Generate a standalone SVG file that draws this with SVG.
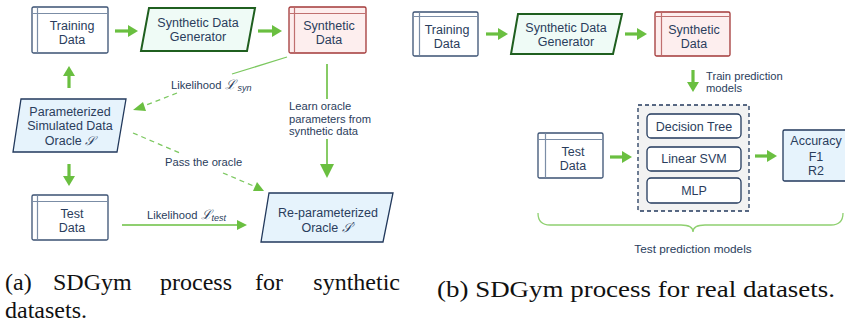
<svg xmlns="http://www.w3.org/2000/svg" width="845" height="323" viewBox="0 0 845 323">
<style>
text{font-family:"Liberation Sans",Arial,sans-serif;fill:#2a3d5c}
.n{font-size:12.5px;text-anchor:middle}
.l{font-size:11.2px}
.lc{font-size:11.8px;text-anchor:middle}
.cap{font-family:"Liberation Serif","Times New Roman",serif;font-size:24px;fill:#111}
.box{fill:#fff;stroke:#3b5273;stroke-width:1.3}
.inner{stroke:#7b8da6;stroke-width:1.2;fill:none}
.syn{fill:#fdeeee;stroke:#a33838;stroke-width:1.3}
.synin{stroke:#c07070;stroke-width:1.2;fill:none}
.gen{fill:#effbf6;stroke:#1f5f1f;stroke-width:2}
.orc{fill:#e6f3fc;stroke:#22395c;stroke-width:1.3}
.mod{fill:#fff;stroke:#22395c;stroke-width:1.3}
.thick{stroke:#6abf40;stroke-width:3.2;fill:none}
.thin{stroke:#6abf40;stroke-width:1.6;fill:none}
.dash{stroke:#7cc860;stroke-width:1.3;fill:none;stroke-dasharray:5,4}
.head{fill:#6abf40}
.sym{font-family:"DejaVu Serif",serif;font-style:italic}
</style>

<!-- ===== Panel (a) ===== -->
<g id="a-training">
  <rect class="box" x="32" y="7" width="76" height="46" rx="1.5"/>
  <path class="inner" d="M37.5 7.5V52.5M32.5 13.5H107.5"/>
  <text class="n" x="72" y="29.5">Training<tspan x="72" dy="14">Data</tspan></text>
</g>
<g id="a-generator">
  <polygon class="gen" points="149,8 255,8 247,51 141,51"/>
  <text class="n" x="198" y="26.5">Synthetic Data<tspan x="198" dy="14">Generator</tspan></text>
</g>
<g id="a-synthetic">
  <rect class="syn" x="289" y="7" width="77" height="46" rx="1.5"/>
  <path class="synin" d="M294.5 7.5V52.5M289.5 13.5H365.5"/>
  <text class="n" x="329" y="29.5">Synthetic<tspan x="329" dy="14">Data</tspan></text>
</g>
<g id="a-oracle">
  <polygon class="orc" points="21,99 126,99 117,152 13,152"/>
  <text class="n" x="70" y="116">Parameterized<tspan x="70" dy="14">Simulated Data</tspan><tspan x="70" dy="15">Oracle <tspan class="sym">𝒮</tspan></tspan></text>
</g>
<g id="a-test">
  <rect class="box" x="32" y="195" width="76" height="45" rx="1.5"/>
  <path class="inner" d="M37.5 195.5V239.5M32.5 201.5H107.5"/>
  <text class="n" x="72" y="217.5">Test<tspan x="72" dy="14">Data</tspan></text>
</g>
<g id="a-reparam">
  <polygon class="orc" points="269,193 393,193 383,242 261,242"/>
  <text class="n" x="328" y="217">Re-parameterized<tspan x="328" dy="15">Oracle <tspan class="sym">𝒮′</tspan></tspan></text>
</g>

<g id="a-connectors">
  <path class="thick" d="M115 31H130"/><polygon class="head" points="138,31 128,25 128,37"/>
  <path class="thick" d="M258 31H274"/><polygon class="head" points="282,31 272,25 272,37"/>
  <path class="thick" d="M69 88V75"/><polygon class="head" points="69,66 63,76 75,76"/>
  <path class="thick" d="M69 164V177"/><polygon class="head" points="69,186 63,176 75,176"/>
  <path class="thin" d="M327 64V99M327 139V165"/><polygon class="head" points="327,178 320,164 334,164"/>
  <path class="thin" d="M122 225H238"/><polygon class="head" points="247,225 237,220 237,230"/>
  <path class="thin" style="stroke:#7cc860;stroke-width:1.3" d="M287 57L232 74"/>
  <path class="dash" d="M177 93L141 107"/><polygon class="head" points="133,110 143,102 146,111"/>
  <path class="dash" d="M133 133L180 153M223 173L256 187"/><polygon class="head" points="264,191 253,191 257,182"/>
  <text class="l" x="171" y="89" font-size="11.5">Likelihood <tspan class="sym" font-size="13">ℒ</tspan><tspan font-style="italic" font-size="9" dx="2" dy="2">syn</tspan></text>
  <text class="l" x="289" y="110">Learn oracle<tspan x="289" dy="12.5">parameters from</tspan><tspan x="289" dy="12.5">synthetic data</tspan></text>
  <text class="l" x="165" y="166" font-size="11.5">Pass the oracle</text>
  <text class="l" x="147" y="219" font-size="11.5">Likelihood <tspan class="sym" font-size="13">ℒ</tspan><tspan font-style="italic" font-size="9" dy="2">test</tspan></text>
</g>

<!-- ===== Panel (b) ===== -->
<g id="b-training">
  <rect class="box" x="413" y="12" width="65" height="44" rx="1.5"/>
  <path class="inner" d="M419.5 12.5V55.5M413.5 16.5H477.5"/>
  <text class="n" x="447" y="34">Training<tspan x="447" dy="14">Data</tspan></text>
</g>
<g id="b-generator">
  <polygon class="gen" points="518,14 622,14 613,54 511,54"/>
  <text class="n" x="566" y="31.5">Synthetic Data<tspan x="566" dy="14">Generator</tspan></text>
</g>
<g id="b-synthetic">
  <rect class="syn" x="655" y="12" width="75" height="44" rx="1.5"/>
  <path class="synin" d="M661.5 12.5V55.5M655.5 16.5H729.5"/>
  <text class="n" x="694" y="34">Synthetic<tspan x="694" dy="14">Data</tspan></text>
</g>
<g id="b-test">
  <rect class="box" x="538" y="133" width="65" height="45" rx="1.5"/>
  <path class="inner" d="M545.5 133.5V177.5M538.5 139.5H602.5"/>
  <text class="n" x="573" y="155.5">Test<tspan x="573" dy="14">Data</tspan></text>
</g>
<g id="b-models">
  <rect x="638" y="105" width="111" height="106" fill="#f2f2f2" stroke="#22395c" stroke-width="1.3" stroke-dasharray="4,3"/>
  <g id="b-tree">
    <rect class="mod" x="647" y="114" width="94" height="24" rx="4"/>
    <text class="n" x="694" y="131" font-size="13">Decision Tree</text>
  </g>
  <g id="b-svm">
    <rect class="mod" x="647" y="147" width="94" height="24" rx="4"/>
    <text class="n" x="694" y="163" font-size="13">Linear SVM</text>
  </g>
  <g id="b-mlp">
    <rect class="mod" x="647" y="178" width="94" height="25" rx="4"/>
    <text class="n" x="694" y="195" font-size="13">MLP</text>
  </g>
</g>
<g id="b-metrics">
  <rect class="orc" x="783" y="130" width="70" height="51" rx="1.5"/>
  <text class="n" x="816" y="145">Accuracy<tspan x="816" dy="15.5">F1</tspan><tspan x="816" dy="14">R2</tspan></text>
</g>
<g id="b-connectors">
  <path class="thick" d="M486 34H500"/><polygon class="head" points="508,34 498,28 498,40"/>
  <path class="thick" d="M625 34H639"/><polygon class="head" points="647,34 637,28 637,40"/>
  <path class="thick" d="M693 70V83"/><polygon class="head" points="693,92 687,82 699,82"/>
  <path class="thick" d="M610 157H624"/><polygon class="head" points="632,157 622,151 622,163"/>
  <path class="thick" d="M755 156H769"/><polygon class="head" points="777,156 767,150 767,162"/>
  <text class="l" x="706" y="79.5">Train prediction<tspan x="706" dy="12.5">models</tspan></text>
  <path d="M538 213Q538 225 550 225H681Q693 225 693 232Q693 225 705 225H831Q843 225 843 213" fill="none" stroke="#8fd070" stroke-width="1.3"/>
  <text class="lc" x="693" y="253">Test prediction models</text>
</g>

<!-- captions -->
<g id="captions">
  <text class="cap" x="5" y="290">(a)</text>
  <text class="cap" x="53" y="290">SDGym</text>
  <text class="cap" x="160" y="290">process</text>
  <text class="cap" x="255" y="290">for</text>
  <text class="cap" x="400" y="290" text-anchor="end">synthetic</text>
  <text class="cap" x="5" y="318">datasets.</text>
  <text class="cap" x="437" y="297" textLength="398" lengthAdjust="spacingAndGlyphs">(b) SDGym process for real datasets.</text>
</g>
</svg>
